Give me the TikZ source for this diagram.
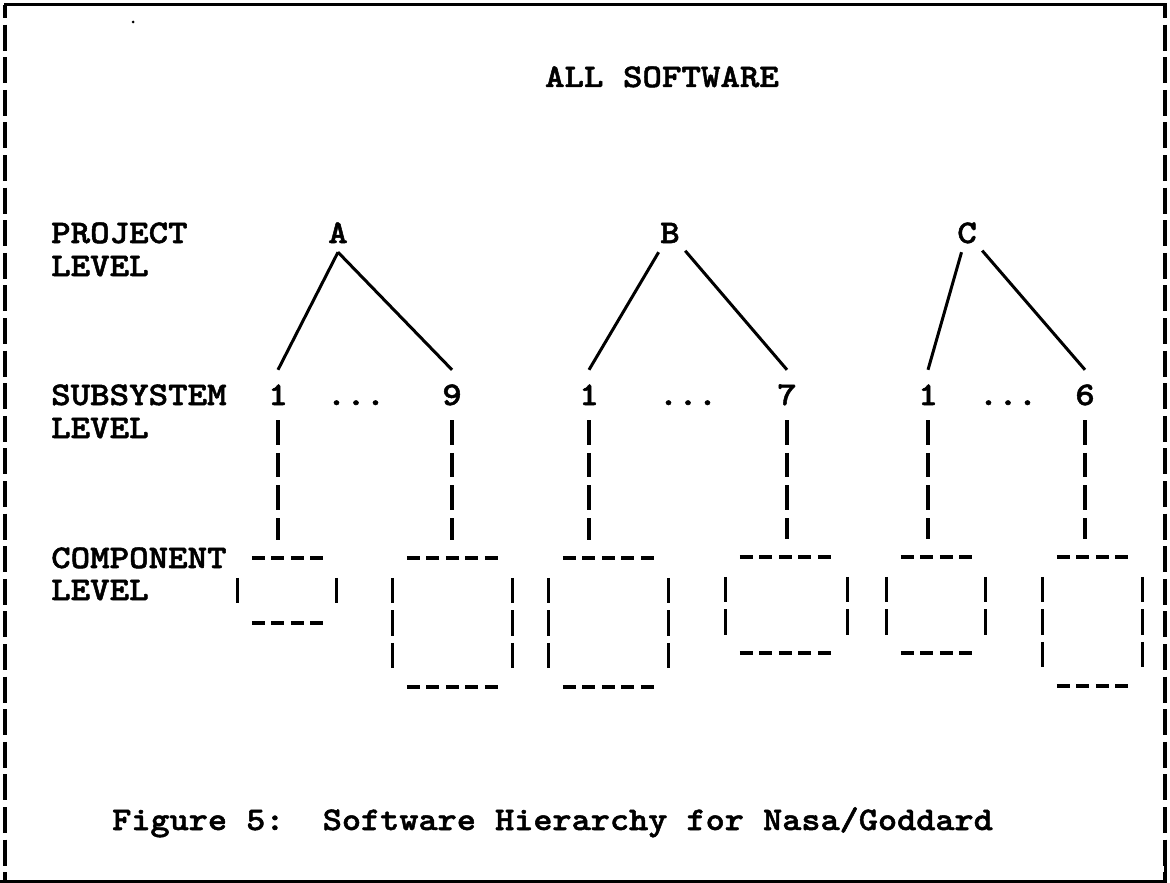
\documentclass[tikz,border=0pt]{standalone}
\usepackage{fontspec}
% typewriter face, widened to the typed character pitch
\newfontfamily\tw{lmmonolt10-bold.otf}[FakeStretch=1.125,FakeBold=1.5]
\newfontfamily\twcap{lmmonolt10-bold.otf}[FakeStretch=1.105,FakeBold=1.5]
\newcommand\twfont{\tw\fontsize{33}{40}\selectfont\frenchspacing}
\newcommand\twcapfont{\twcap\fontsize{33}{40}\selectfont\frenchspacing}

\begin{document}
\begin{tikzpicture}[x=1pt,y=-1pt,
  txt/.style={font=\twfont, inner sep=0pt, text height=20pt, text depth=0pt},
  lbl/.style={txt, anchor=west},
  proj/.style={txt, minimum width=30pt, minimum height=38pt},
  sub/.style={txt, minimum height=50pt},
  compbox/.style={rectangle, inner sep=0pt},
  link/.style={line width=3pt},
  hdash/.style={line width=4pt, dash pattern=on 13pt off 6.5pt},
  vdash/.style={line width=3.3pt, dash pattern=on 25.5pt off 7pt},
  drop/.style={line width=3.3pt, dash pattern=on 24.6pt off 8pt, shorten >=18pt},
  frame/.style={line width=3pt},
  framebars/.style={line width=3.5pt, dash pattern=on 26pt off 6.6pt, dash phase=13pt}]

\useasboundingbox (0,0) rectangle (1170,883);

% outer frame: solid top and bottom, typed bars on the sides
\draw[frame] (5,18) -- (5,5) -- (1165,5) -- (1165,18);
\draw[framebars] (5,5) -- (5,881);
\draw[framebars] (1165,5) -- (1165,881);
\draw[frame] (1165,866) -- (1165,881) -- (0,881);
\fill (133,22) circle (1.5pt);

% title
\node[txt] (title) at (662,77) {ALL SOFTWARE};

% level labels
\node[lbl] (projA) at (51,233) {PROJECT};
\node[lbl] (projB) at (51,266) {LEVEL};
\node[lbl] (subA)  at (51,395) {SUBSYSTEM};
\node[lbl] (subB)  at (51,428) {LEVEL};
\node[lbl] (compA) at (51,558) {COMPONENT};
\node[lbl] (compB) at (51,590) {LEVEL};

% projects
\node[proj] (A) at (338,233) {A};
\node[proj] (B) at (670,233) {B};
\node[proj] (C) at (967,233) {C};

% subsystems
\node[sub] (a1) at (278,395) {1};
\node[sub] (a9) at (452,395) {9};
\node[sub] (b1) at (589,395) {1};
\node[sub] (b7) at (787,395) {7};
\node[sub] (c1) at (928,395) {1};
\node[sub] (c6) at (1085,395) {6};
\node[txt] (adots) at (356,395) {...};
\node[txt] (bdots) at (688,395) {...};
\node[txt] (cdots) at (1008,395) {...};

% components
\node[compbox, minimum width=98pt,  minimum height=65pt]  (ka1) at (287,590.5) {};
\node[compbox, minimum width=119pt, minimum height=129pt] (ka9) at (452.5,622.5) {};
\node[compbox, minimum width=119pt, minimum height=129pt] (kb1) at (608.5,622.5) {};
\node[compbox, minimum width=121pt, minimum height=96pt]  (kb7) at (786.5,605) {};
\node[compbox, minimum width=98pt,  minimum height=96pt]  (kc1) at (936,605) {};
\node[compbox, minimum width=99pt,  minimum height=129pt] (kc6) at (1092.5,621.5) {};

\foreach \k in {ka1,ka9,kb1,kb7,kc1,kc6}{
  \draw[hdash] ([xshift=14pt]\k.north west) -- ([xshift=-13pt]\k.north east);
  \draw[hdash] ([xshift=14pt]\k.south west) -- ([xshift=-13pt]\k.south east);
  \draw[vdash] ([yshift=-20pt]\k.north west) -- ([yshift=18pt]\k.south west);
  \draw[vdash] ([yshift=-20pt]\k.north east) -- ([yshift=18pt]\k.south east);
}

% project to subsystem links
\draw[link] (A.south) -- (a1.north);
\draw[link] (A.south) -- (a9.north);
\draw[link] (B) -- (b1.north);
\draw[link] (B) -- (b7.north);
\draw[link] (C) -- (c1.north);
\draw[link] (C) -- (c6.north);

% subsystem to component drops
\foreach \s/\k in {a1/ka1,a9/ka9,b1/kb1,b7/kb7,c1/kc1,c6/kc6}{
  \draw[drop] (\s.south) -- (\s.south |- \k.north);
}

% caption
\node[txt, font=\twcapfont, text depth=7pt, anchor=base west] (caption) at (112,830)
  {Figure 5:\ \ Software Hierarchy for Nasa/Goddard};

\end{tikzpicture}
\end{document}
